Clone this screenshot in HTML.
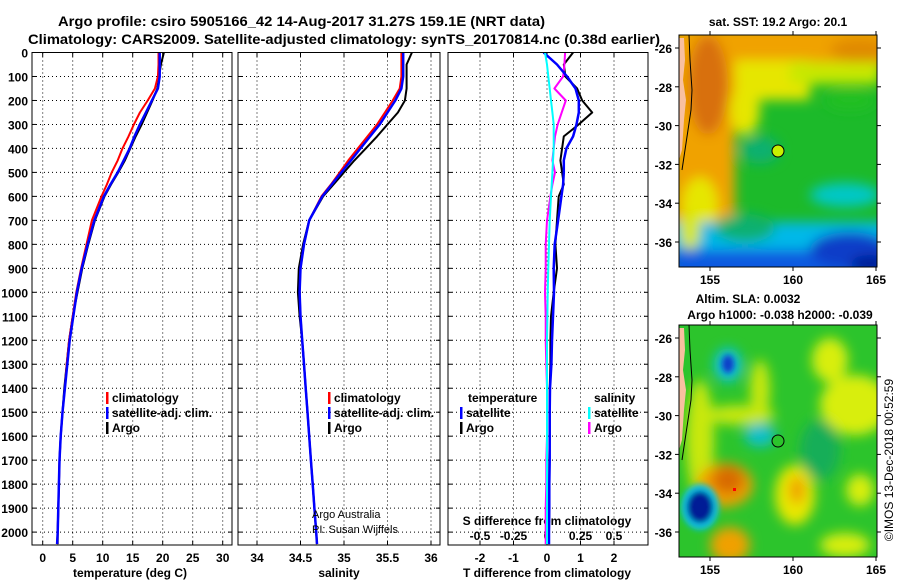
<!DOCTYPE html>
<html><head><meta charset="utf-8">
<style>
html,body{margin:0;padding:0;background:#fff;}
svg{display:block;font-family:"Liberation Sans",sans-serif;font-weight:bold;}
</style></head>
<body>
<svg id="fig" width="900" height="580" viewBox="0 0 900 580" xmlns="http://www.w3.org/2000/svg">
<defs>
<filter id="blur6" x="-50%" y="-50%" width="200%" height="200%"><feGaussianBlur stdDeviation="6"/></filter>
<filter id="blur3" x="-50%" y="-50%" width="200%" height="200%"><feGaussianBlur stdDeviation="3"/></filter>
<clipPath id="clipM1"><rect x="679" y="35" width="198" height="232"/></clipPath>
<clipPath id="clipM2"><rect x="679" y="325" width="198" height="232"/></clipPath>
<clipPath id="clipP1"><rect x="32" y="52" width="200" height="493"/></clipPath>
<clipPath id="clipP2"><rect x="238" y="52" width="202" height="493"/></clipPath>
<clipPath id="clipP3"><rect x="448" y="52" width="200" height="493"/></clipPath>
</defs>
<text x="58" y="26" font-size="14" textLength="487" lengthAdjust="spacingAndGlyphs">Argo profile: csiro 5905166_42 14-Aug-2017 31.27S 159.1E (NRT data)</text>
<text x="28" y="44" font-size="14" textLength="632" lengthAdjust="spacingAndGlyphs">Climatology: CARS2009. Satellite-adjusted climatology: synTS_20170814.nc (0.38d earlier)</text>

<g id="p1"></g>
<g id="p2"></g>
<g id="p3"></g>

<!-- Map 1: SST -->
<g>
<text x="778" y="26" font-size="12" text-anchor="middle">sat. SST: 19.2 Argo: 20.1</text>
<g clip-path="url(#clipM1)">
<rect x="679" y="35" width="198" height="232" fill="#1cba2a"/>
<g filter="url(#blur6)">
<rect x="670" y="25" width="220" height="42" fill="#f0a200"/>
<rect x="720" y="60" width="90" height="40" fill="#e6e600"/>
<rect x="790" y="62" width="90" height="22" fill="#c8e800"/>
<rect x="670" y="25" width="65" height="200" fill="#f0a200"/>
<ellipse cx="708" cy="85" rx="20" ry="50" fill="#d8700a"/>
<ellipse cx="860" cy="50" rx="30" ry="12" fill="#e08a00"/>
<ellipse cx="745" cy="110" rx="15" ry="25" fill="#e6e600"/>
<ellipse cx="700" cy="205" rx="18" ry="28" fill="#e6e600"/>
<ellipse cx="850" cy="100" rx="25" ry="10" fill="#22c020"/>
<ellipse cx="760" cy="150" rx="20" ry="14" fill="#10b070"/>
<ellipse cx="845" cy="195" rx="35" ry="12" fill="#00c8c8"/>
<rect x="670" y="222" width="230" height="60" fill="#00b8e8"/>
<ellipse cx="745" cy="228" rx="30" ry="14" fill="#10b070"/>
<rect x="670" y="250" width="230" height="30" fill="#0a5ae0"/>
<ellipse cx="850" cy="250" rx="40" ry="18" fill="#0a3cc8"/>
<ellipse cx="870" cy="265" rx="20" ry="10" fill="#001e96"/>
<ellipse cx="690" cy="230" rx="10" ry="20" fill="#d8e800"/>
</g>
<path d="M679,38 L684,38 L685,60 L683,80 L686,100 L684,120 L682,150 L679,160 Z" fill="#f8c0a0"/>
<path d="M689,35 L690,60 L692,90 L691,110 L688,130 L685,150 L682,170" fill="none" stroke="#000" stroke-width="1"/>
<circle cx="778" cy="151" r="6" fill="#c8f000" stroke="#000" stroke-width="1"/>
</g>
<rect x="679" y="35" width="198" height="232" fill="none" stroke="#000" stroke-width="1"/>
</g>

<!-- Map 2: SLA -->
<g>
<text x="748" y="303" font-size="12" text-anchor="middle">Altim. SLA: 0.0032</text>
<text x="780" y="319" font-size="12" text-anchor="middle">Argo h1000: -0.038 h2000: -0.039</text>
<g clip-path="url(#clipM2)">
<rect x="679" y="325" width="198" height="232" fill="#2cc42c"/>
<g filter="url(#blur6)">
<ellipse cx="855" cy="405" rx="35" ry="30" fill="#d8ee10"/>
<ellipse cx="830" cy="360" rx="18" ry="22" fill="#d8ee10"/>
<ellipse cx="760" cy="390" rx="10" ry="30" fill="#c8e810"/>
<ellipse cx="740" cy="415" rx="35" ry="10" fill="#c8e810"/>
<ellipse cx="700" cy="440" rx="14" ry="60" fill="#c8e810"/>
<ellipse cx="795" cy="495" rx="20" ry="30" fill="#e8e800"/>
<ellipse cx="797" cy="490" rx="8" ry="14" fill="#f0a000"/>
<ellipse cx="860" cy="490" rx="14" ry="16" fill="#d8ee10"/>
<ellipse cx="725" cy="485" rx="28" ry="22" fill="#f0a000"/>
<ellipse cx="728" cy="480" rx="16" ry="14" fill="#d86a00"/>
<ellipse cx="730" cy="545" rx="20" ry="18" fill="#f0a000"/>
<ellipse cx="845" cy="545" rx="25" ry="12" fill="#d8ee10"/>
<ellipse cx="760" cy="435" rx="16" ry="12" fill="#0ec0c8"/>
<ellipse cx="820" cy="450" rx="20" ry="30" fill="#14ae58"/>
<ellipse cx="728" cy="365" rx="14" ry="17" fill="#10c0e0"/>
</g>
<g filter="url(#blur3)">
<ellipse cx="728" cy="364" rx="6" ry="9" fill="#0a3cc8"/>
<ellipse cx="700" cy="507" rx="19" ry="23" fill="#10c0e0"/>
<ellipse cx="700" cy="507" rx="13" ry="16" fill="#001e96"/>
</g>
<rect x="733" y="488" width="3" height="3" fill="#f00"/>
<path d="M679,328 L684,328 L685,350 L683,370 L686,390 L684,410 L682,440 L679,450 Z" fill="#f8c0a0"/>
<path d="M689,325 L690,350 L692,380 L691,400 L688,420 L685,440 L682,460" fill="none" stroke="#000" stroke-width="1"/>
<circle cx="778" cy="441" r="6" fill="#2cc42c" stroke="#000" stroke-width="1"/>
</g>
<rect x="679" y="325" width="198" height="232" fill="none" stroke="#000" stroke-width="1"/>
</g>
<text transform="translate(893,460) rotate(-90)" font-size="12" font-weight="normal" text-anchor="middle">©IMOS 13-Dec-2018 00:52:59</text>
</svg>
<script>
// ---------- data ----------
const depths = [0,50,100,150,200,250,300,350,400,450,500,550,600,700,800,900,1000,1100,1200,1300,1400,1500,1600,1700,1800,1900,2000,2050];
const tempClim = [19.3,19.3,19.2,18.7,17.5,16.2,15.2,14.3,13.3,12.5,11.5,10.7,9.8,8.2,7.3,6.4,5.6,5.0,4.4,4.0,3.7,3.3,3.0,2.8,2.7,2.6,2.5,2.4];
const tempSat  = [19.5,19.5,19.5,19.2,18.2,17.2,16.2,15.3,14.5,13.5,12.5,11.3,10.2,8.6,7.5,6.5,5.7,5.1,4.5,4.1,3.7,3.3,3.0,2.8,2.7,2.6,2.5,2.4];
const tempArgo = [20.2,19.7,19.4,19.1,18.3,17.4,16.5,15.5,14.6,13.7,12.6,11.4,10.3,8.7,7.6,6.6,5.8,5.0,4.4,4.0,3.6,3.3,3.0,2.8,2.7,2.6,2.5,2.5];
const salClim = [35.66,35.66,35.66,35.64,35.56,35.47,35.38,35.27,35.16,35.05,34.95,34.85,34.74,34.6,34.54,34.5,34.49,34.5,34.52,34.54,34.56,34.58,34.6,34.62,34.64,34.66,34.68,34.69];
const salSat  = [35.68,35.68,35.68,35.66,35.59,35.5,35.41,35.3,35.19,35.08,34.97,34.86,34.75,34.6,34.54,34.5,34.49,34.5,34.52,34.54,34.56,34.58,34.6,34.62,34.64,34.66,34.68,34.69];
const salArgo = [35.78,35.72,35.72,35.72,35.7,35.62,35.5,35.38,35.25,35.12,35.0,34.88,34.76,34.6,34.53,34.48,34.47,34.49,34.52,34.54,34.56,34.58,34.6,34.62,34.64,34.66,34.68,34.69];
const tDiffSat  = [-0.1,0.3,0.6,0.85,0.95,0.95,0.88,0.78,0.58,0.5,0.5,0.48,0.43,0.33,0.23,0.2,0.21,0.18,0.15,0.13,0.09,0.08,0.08,0.08,0.07,0.07,0.06,0.06];
const tDiffArgo = [0.78,0.5,0.55,0.9,1.05,1.35,0.95,0.5,0.45,0.4,0.45,0.5,0.35,0.3,0.25,0.3,0.2,0.12,0.1,0.1,0.08,0.08,0.08,0.07,0.07,0.07,0.06,0.06];
const sDiffSat  = [-0.015,0.0,0.01,0.02,0.03,0.04,0.05,0.05,0.05,0.045,0.04,0.035,0.03,0.02,0.015,0.01,0.005,0.003,0.0,0.0,0.0,0.0,0.0,0.0,0.0,0.0,0.0,0.0];
const sDiffArgo = [0.135,0.13,0.12,0.055,0.14,0.11,0.08,0.06,0.05,0.04,0.06,0.04,0.025,0.0,-0.01,-0.01,-0.015,-0.01,-0.01,-0.005,0.0,0.0,0.0,-0.005,-0.005,-0.01,-0.01,-0.01];
const depthTicks = [0,100,200,300,400,500,600,700,800,900,1000,1100,1200,1300,1400,1500,1600,1700,1800,1900,2000];
const tempTicks = [0,5,10,15,20,25,30];
const salTicks = [34,34.5,35,35.5,36];
const tDiffTicks = [-2,-1,0,1,2];
const sDiffTicks = [-0.5,-0.25,0,0.25,0.5];
const lonTicks = [155,160,165];
const latTicks = [-26,-28,-30,-32,-34,-36];

// ---------- scales ----------
const NS='http://www.w3.org/2000/svg';
const Y0=52.5, YS=0.2398, YB=545;
const yD = d => Y0 + d*YS;
const xT = t => 42.7 + 6*t;
const xS = s => 257 + 87*(s-34);
const xTD = t => 547 + 33.5*t;
const xSD = s => 547 + 134*s;
const lonX = l => 710 + 16.6*(l-155);
const latY1 = a => 48 + 19.4*(-26-a);
const latY2 = a => 338 + 19.4*(-26-a);
const svg = document.getElementById('fig');

function mk(tag, attrs, parent){
  const e=document.createElementNS(NS,tag);
  for(const k in attrs) e.setAttribute(k,attrs[k]);
  (parent||svg).appendChild(e); return e;
}
function txt(parent,x,y,s,size,anchor){
  const t=mk('text',{x:x,y:y,'font-size':size,'text-anchor':anchor||'middle'},parent);
  t.textContent=s; return t;
}
function stepPath(vals, xf){
  let d='';
  for(let i=0;i<depths.length;i++){
    const x=xf(vals[i]).toFixed(1), y=yD(depths[i]).toFixed(1);
    d += (i? 'L':'M')+x+','+y;
  }
  return d;
}
function panel(g, x0, x1, gridXs){
  for(const d of depthTicks){
    const l=mk('line',{x1:x0,x2:x1,y1:yD(d),y2:yD(d),stroke:'#000','stroke-width':1,'stroke-dasharray':'1,3'},g);
    
    
    mk('line',{x1:x0,x2:x0+4,y1:yD(d),y2:yD(d),stroke:'#000'},g);
    mk('line',{x1:x1-4,x2:x1,y1:yD(d),y2:yD(d),stroke:'#000'},g);
  }
  for(const x of gridXs){
    const l=mk('line',{x1:x,x2:x,y1:Y0,y2:YB,stroke:'#000','stroke-width':1,'stroke-dasharray':'1,3'},g);
    
    
    mk('line',{x1:x,x2:x,y1:Y0,y2:Y0+4,stroke:'#000'},g);
    mk('line',{x1:x,x2:x,y1:YB-4,y2:YB,stroke:'#000'},g);
  }
}
function frame(g,x0,x1){
  const r=mk('rect',{x:x0,y:Y0,width:x1-x0,height:YB-Y0,fill:'none',stroke:'#000','stroke-width':1},g);
  
  
}
function series(g, vals, xf, color, w, name, clip){
  const p=mk('path',{d:stepPath(vals,xf),fill:'none',stroke:color,'stroke-width':w,'stroke-linejoin':'round','clip-path':clip},g);
  
  
}
function legend(g,x,y,color,label){
  mk('rect',{x:x,y:y-10,width:2.5,height:12,fill:color},g);
  const t=txt(g,x+6,y,label,12,'start');
  
  
}

// ---------- panel 1: temperature ----------
const p1=document.getElementById('p1');
panel(p1,32,232,tempTicks.map(xT));
for(const d of depthTicks){
  const t=txt(p1,28,yD(d)+5,String(d),12,'end');
  
  
}
for(const v of tempTicks){
  const t=txt(p1,xT(v),562,String(v),12);
  
  
}
const xt1=txt(p1,130,577,'temperature (deg C)',12);


series(p1,tempArgo,xT,'#000',2,'temp-argo-line','url(#clipP1)');
series(p1,tempClim,xT,'#f00',2,'temp-climatology-line','url(#clipP1)');
series(p1,tempSat,xT,'#00f',2.5,'temp-satellite-line','url(#clipP1)');
legend(p1,106,402,'#f00','climatology');
legend(p1,106,417,'#00f','satellite-adj. clim.');
legend(p1,106,432,'#000','Argo');
frame(p1,32,232);

// ---------- panel 2: salinity ----------
const p2=document.getElementById('p2');
panel(p2,238,440,salTicks.map(xS));
for(const v of salTicks){
  const t=txt(p2,xS(v),562,String(v),12);
  
  
}
const xt2=txt(p2,339,577,'salinity',12);


series(p2,salArgo,xS,'#000',2,'salinity-argo-line','url(#clipP2)');
series(p2,salClim,xS,'#f00',2,'salinity-climatology-line','url(#clipP2)');
series(p2,salSat,xS,'#00f',2.5,'salinity-satellite-line','url(#clipP2)');
legend(p2,328,402,'#f00','climatology');
legend(p2,328,417,'#00f','satellite-adj. clim.');
legend(p2,328,432,'#000','Argo');
const c1=mk('text',{x:312,y:518,'font-size':11,'font-weight':'normal'},p2); c1.textContent='Argo Australia';


const c2=mk('text',{x:312,y:533,'font-size':11,'font-weight':'normal'},p2); c2.textContent='PI: Susan Wijffels';


frame(p2,238,440);

// ---------- panel 3: differences ----------
const p3=document.getElementById('p3');
panel(p3,448,648,tDiffTicks.map(xTD));
for(const v of tDiffTicks){
  const t=txt(p3,xTD(v),562,String(v),12);
  
  
}
const xt3=txt(p3,547,577,'T difference from climatology',12);


for(const v of sDiffTicks){
  const t=txt(p3,xSD(v),540,String(v),12);
  
  
}
const st3=txt(p3,547,525,'S difference from climatology',12);


series(p3,tDiffArgo,xTD,'#000',2,'tdiff-argo-line','url(#clipP3)');
series(p3,sDiffArgo,xSD,'#f0f',2,'sdiff-argo-line','url(#clipP3)');
series(p3,tDiffSat,xTD,'#00f',2.5,'tdiff-satellite-line','url(#clipP3)');
series(p3,sDiffSat,xSD,'#0ff',2,'sdiff-satellite-line','url(#clipP3)');
const lt=txt(p3,468,402,'temperature',12,'start');


const ls=txt(p3,594,402,'salinity',12,'start');


legend(p3,460,417,'#00f','satellite');
legend(p3,460,432,'#000','Argo');
legend(p3,588,417,'#0ff','satellite');
legend(p3,588,432,'#f0f','Argo');
frame(p3,448,648);

// ---------- map axes ----------
function mapAxes(latY, top, bottom){
  for(const l of lonTicks){
    mk('line',{x1:lonX(l),x2:lonX(l),y1:top-4,y2:top,stroke:'#000'});
    mk('line',{x1:lonX(l),x2:lonX(l),y1:bottom,y2:bottom+4,stroke:'#000'});
    const t=txt(svg,lonX(l),bottom+17,String(l),12);
    
    
  }
  for(const a of latTicks){
    mk('line',{x1:675,x2:679,y1:latY(a),y2:latY(a),stroke:'#000'});
    mk('line',{x1:877,x2:881,y1:latY(a),y2:latY(a),stroke:'#000'});
    const t=txt(svg,672,latY(a)+5,String(a),12,'end');
    
    
  }
}
mapAxes(latY1,35,267);
mapAxes(latY2,325,557);
</script>
</body></html>
